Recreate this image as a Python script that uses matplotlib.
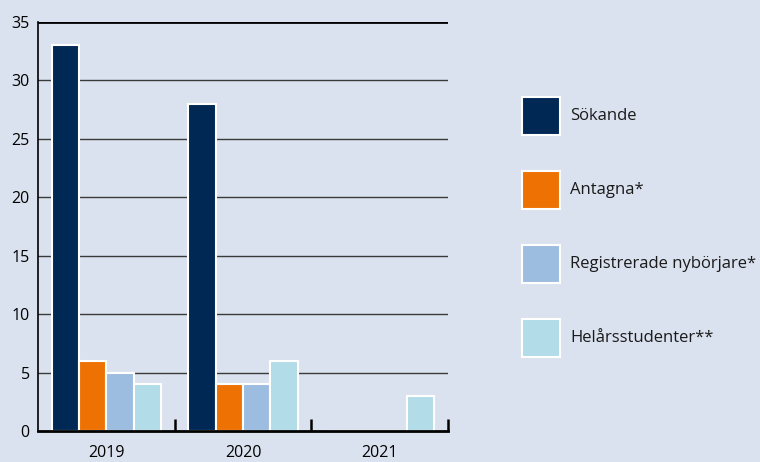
import matplotlib
matplotlib.use("Agg")
import matplotlib.pyplot as plt
import numpy as np
from matplotlib.patches import Rectangle

plt.rcParams['font.family'] = ['Open Sans', 'DejaVu Sans']

years = ["2019", "2020", "2021"]
series = ["Sökande", "Antagna*", "Registrerade nybörjare*", "Helårsstudenter**"]
values = {
    "Sökande": [33, 28, 0],
    "Antagna*": [6, 4, 0],
    "Registrerade nybörjare*": [5, 4, 0],
    "Helårsstudenter**": [4, 6, 3],
}
colors = ["#002855", "#ee7203", "#9dbde0", "#b1dce8"]
yticks = [0, 5, 10, 15, 20, 25, 30, 35]

W, H = 760, 462
bg = "#dbe2ef"
fig = plt.figure(figsize=(7.6, 4.62), dpi=100, facecolor=bg)
ax = fig.add_axes([0.05, 0.0671, 0.5395, 0.8853], facecolor=bg)

x = np.arange(len(years))
w = 0.2
for i, s in enumerate(series):
    ax.bar(x + (i - 1.5) * w, values[s], width=w, color=colors[i],
           edgecolor="white", linewidth=1.5, zorder=3, label=s)

ax.set_xlim(-0.5, 2.5)
ax.set_ylim(0, 35)
ax.set_yticks(yticks)
ax.set_yticklabels([str(t) for t in yticks], fontsize=11.5)
ax.tick_params(axis='y', length=0, pad=6)
for t in yticks[1:-1]:
    ax.axhline(t, color="#3a3a3a", linewidth=1.0, zorder=1)
ax.axhline(35, color="black", linewidth=2.0, zorder=1)

ax.set_xticks(x)
ax.set_xticklabels(years, fontsize=11.5)
ax.tick_params(axis='x', which='major', length=0, pad=10)
ax.set_xticks([0.5, 1.5, 2.5], minor=True)
ax.tick_params(axis='x', which='minor', direction='in', length=9, width=1.8, color='black')

for sp in ["top", "right"]:
    ax.spines[sp].set_visible(False)
ax.spines["left"].set_linewidth(1.2)
ax.spines["bottom"].set_linewidth(2.0)
ax.spines["bottom"].set_zorder(4)

# legend drawn manually in figure pixel coordinates
row_centers = [116, 190, 264, 338]
sq = 38
for i, s in enumerate(series):
    yc = row_centers[i]
    fig.add_artist(Rectangle((522 / W, (H - yc - sq / 2) / H), sq / W, sq / H,
                             transform=fig.transFigure, facecolor=colors[i],
                             edgecolor="white", linewidth=1.5))
    fig.text(570 / W, (H - yc) / H, s, fontsize=12, va="center", ha="left",
             color="#1a1a1a")

fig.savefig("out.png", dpi=100, facecolor=bg)
